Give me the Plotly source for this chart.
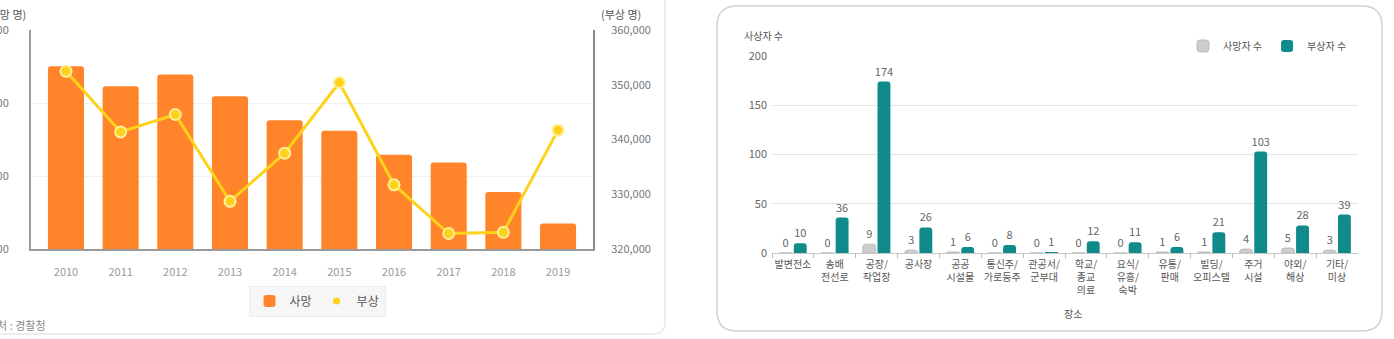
import plotly.graph_objects as go

W, H = 1394, 339
FONT = "Noto Sans CJK KR, Noto Sans, sans-serif"

# ---- left chart data ----
years = ["2010", "2011", "2012", "2013", "2014", "2015", "2016", "2017", "2018", "2019"]
deaths = [5505, 5229, 5392, 5092, 4762, 4621, 4292, 4185, 3781, 3349]
injuries = [352458, 341391, 344565, 328711, 337497, 350400, 331720, 322829, 323037, 341712]

# ---- right chart data ----
places = ["발변전소", "송배<br>전선로", "공장/<br>작업장", "공사장", "공공<br>시설물", "통신주/<br>가로등주",
          "관공서/<br>군부대", "학교/<br>종교<br>의료", "요식/<br>유흥/<br>숙박", "유통/<br>판매",
          "빌딩/<br>오피스텔", "주거<br>시설", "야외/<br>해상", "기타/<br>미상"]
dead_cnt = [0, 0, 9, 3, 1, 0, 0, 0, 0, 1, 1, 4, 5, 3]
injured_cnt = [10, 36, 174, 26, 6, 8, 1, 12, 11, 6, 21, 103, 28, 39]


def px(x):
    return x / W


def py(y):
    return 1 - y / H


def rrect(x0, y0, x1, y1, r):
    rx, ry = r / W, r / H
    X0, X1 = px(x0), px(x1)
    Y0, Y1 = py(y0), py(y1)
    return (f"M {X0+rx},{Y0} L {X1-rx},{Y0} Q {X1},{Y0} {X1},{Y0-ry} "
            f"L {X1},{Y1+ry} Q {X1},{Y1} {X1-rx},{Y1} L {X0+rx},{Y1} "
            f"Q {X0},{Y1} {X0},{Y1+ry} L {X0},{Y0-ry} Q {X0},{Y0} {X0+rx},{Y0} Z")


fig = go.Figure()

ORANGE = "#FF842A"
YELLOW = "#FFD21A"
TEAL = "#108A8B"
GRAY = "#CDCDCD"

# left chart
fig.add_trace(go.Bar(x=years, y=deaths, name="사망", marker=dict(color=ORANGE), width=0.66,
                     xaxis="x", yaxis="y", legend="legend", showlegend=True))
fig.add_trace(go.Scatter(x=years, y=injuries, name="부상", mode="lines+markers",
                         line=dict(color=YELLOW, width=3),
                         marker=dict(color=YELLOW, size=11, line=dict(color="#FFEE9A", width=2)),
                         xaxis="x", yaxis="y2", showlegend=False, cliponaxis=False))
fig.add_trace(go.Scatter(x=[None], y=[None], name="부상", mode="markers",
                         marker=dict(color=YELLOW, size=7), xaxis="x", yaxis="y2",
                         legend="legend", showlegend=True))

# right chart
fig.add_trace(go.Bar(x=places, y=dead_cnt, name="사망자 수",
                     marker=dict(color=GRAY, line=dict(color="#BDBDBD", width=1)),
                     text=dead_cnt, textposition="outside", cliponaxis=False, constraintext="none",
                     textfont=dict(size=11, color="#666666"),
                     xaxis="x2", yaxis="y3", legend="legend2"))
fig.add_trace(go.Bar(x=places, y=injured_cnt, name="부상자 수", marker=dict(color=TEAL),
                     text=injured_cnt, textposition="outside", cliponaxis=False, constraintext="none",
                     textfont=dict(size=11, color="#666666"),
                     xaxis="x2", yaxis="y3", legend="legend2"))

fig.update_layout(
    width=W, height=H,
    margin=dict(l=0, r=0, t=0, b=0),
    template="none",
    paper_bgcolor="white", plot_bgcolor="rgba(0,0,0,0)",
    font=dict(family=FONT, size=11, color="#666666"),
    barmode="group", bargap=0.3, bargroupgap=0.12, barcornerradius=3,
    uniformtext=dict(mode=False),
    xaxis=dict(domain=[px(31), px(593)], anchor="y", type="category",
               showline=True, linecolor="#9a9a9a", linewidth=2, ticks="", showgrid=False,
               tickfont=dict(size=11, color="#9a9a9a"), ticklabelstandoff=12, automargin=False),
    yaxis=dict(domain=[py(249), py(30)], anchor="x", range=[3000, 6000], dtick=1000,
               tickformat=",", showline=True, linecolor="#9a9a9a", linewidth=2,
               showgrid=True, gridcolor="#f1f1f1", gridwidth=1, zeroline=False, ticks="",
               tickfont=dict(size=11, color="#777777"), ticklabelstandoff=18, automargin=False),
    yaxis2=dict(overlaying="y", side="right", anchor="x", range=[320000, 360000], dtick=10000,
                tickformat=",", showline=True, linecolor="#8a8a8a", linewidth=2,
                showgrid=False, zeroline=False, ticks="",
                tickfont=dict(size=11, color="#777777"), ticklabelstandoff=14, automargin=False),
    xaxis2=dict(domain=[px(772), px(1358)], anchor="y3", type="category", tickangle=0,
                showline=True, linecolor="#c8c8c8", linewidth=1, showgrid=False,
                ticks="outside", tickson="boundaries", ticklen=4, tickcolor="#bbbbbb",
                tickfont=dict(size=10, color="#555555"), ticklabelstandoff=2, automargin=False),
    yaxis3=dict(domain=[py(253), py(56)], anchor="x2", range=[0, 200], dtick=50,
                showline=False, showgrid=True, gridcolor="#e4e4e4", zeroline=False, ticks="",
                tickfont=dict(size=11, color="#666666"), ticklabelstandoff=4, automargin=False),
    legend=dict(orientation="h", x=px(317), y=py(301), xanchor="center", yanchor="middle",
                bgcolor="#f6f6f6", bordercolor="#ececec", borderwidth=1,
                font=dict(size=12, color="#555555"), itemwidth=30, traceorder="normal"),
    legend2=dict(orientation="h", x=px(1352), y=py(46), xanchor="right", yanchor="middle",
                 bgcolor="rgba(0,0,0,0)", font=dict(size=10, color="#555555"), itemwidth=30,
                 tracegroupgap=0, traceorder="normal"),
    shapes=[
        dict(type="path", path=rrect(-20, -20, 665, 334, 12), xref="paper", yref="paper",
             line=dict(color="#e8e8e8", width=1.5), fillcolor="rgba(0,0,0,0)", layer="below"),
        dict(type="path", path=rrect(717, 6, 1382, 331, 20), xref="paper", yref="paper",
             line=dict(color="#d2d2d2", width=1.5), fillcolor="rgba(0,0,0,0)", layer="below"),
    ],
    annotations=[
        dict(text="(사망 명)", x=px(28), y=py(14), xref="paper", yref="paper",
             xanchor="right", yanchor="middle", showarrow=False, font=dict(size=11, color="#555555")),
        dict(text="(부상 명)", x=px(621), y=py(14), xref="paper", yref="paper",
             xanchor="center", yanchor="middle", showarrow=False, font=dict(size=11, color="#555555")),
        dict(text="출처 : 경찰청", x=px(48), y=py(325), xref="paper", yref="paper",
             xanchor="right", yanchor="middle", showarrow=False, font=dict(size=11, color="#888888")),
        dict(text="사상자 수", x=px(742), y=py(36), xref="paper", yref="paper",
             xanchor="left", yanchor="middle", showarrow=False, font=dict(size=10, color="#555555")),
        dict(text="장소", x=px(1073), y=py(313), xref="paper", yref="paper",
             xanchor="center", yanchor="middle", showarrow=False, font=dict(size=10, color="#555555")),
    ],
)

fig.write_html("out.html")
